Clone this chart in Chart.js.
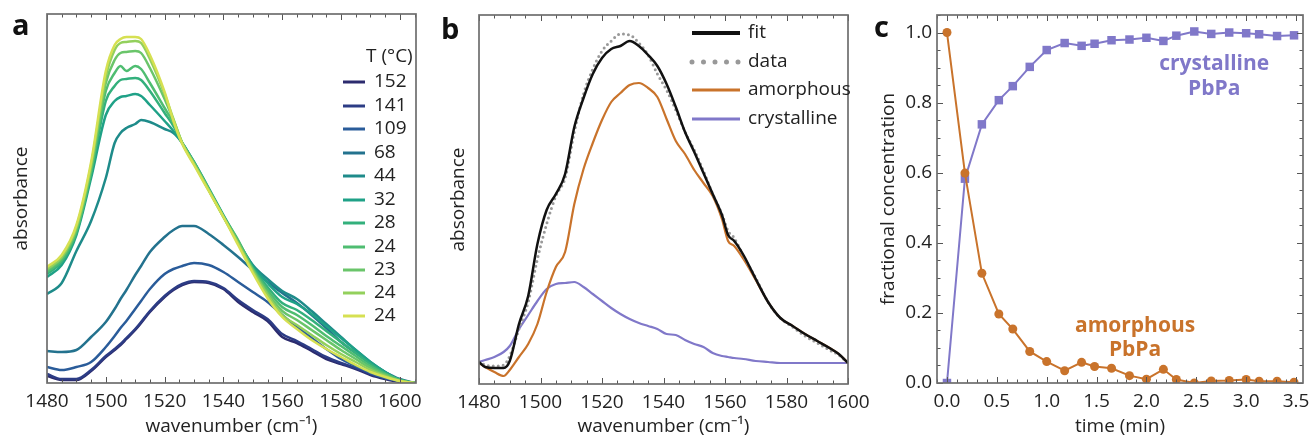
<!DOCTYPE html>
<html>
<head>
<meta charset="utf-8">
<script src="https://cdn.jsdelivr.net/npm/chart.js@4.4.1/dist/chart.umd.min.js"></script>
<style>
  body { margin: 0; background: #fff; }
  #fig { position: relative; width: 1309px; height: 438px; overflow: hidden; font-family: 'Open Sans', sans-serif; }
  #fig canvas { position: absolute; top: 0; }
  .tag { position: absolute; font-weight: 700; font-size: 29px; line-height: 1; color: #111; }
</style>
</head>
<body>
<div id="fig">
  <canvas id="chartA" width="430" height="438" style="left:0"></canvas>
  <canvas id="chartB" width="445" height="438" style="left:430px"></canvas>
  <canvas id="chartC" width="449" height="438" style="left:860px"></canvas>
  <div class="tag" style="left:12px;top:9px">a</div>
  <div class="tag" style="left:441px;top:13px">b</div>
  <div class="tag" style="left:874px;top:11px">c</div>
</div>
<script>
// panel a : spectra while cooling (absorbance in arbitrary units)
var wavenumberA = [1480,1485,1490,1495,1500,1503,1505,1507,1510,1512,1515,1520,1523,1526,1530,1535,1540,1545,1550,1555,1560,1565,1570,1575,1580,1585,1590,1595,1600,1605];
var tempLabels = ['152','141','109','68','44','32','28','24','23','24','24'];
var abs152 = [7,3,3,12,26,33,38,44,53,60,71,86,93,98,101,100,94,81,71,62,46,40,32,24,19,14,8,4,1,0];
var abs141 = [9,4,4,13,27,34,39,45,54,61,72,87,94,99,102,101,95,83,73,64,49,42,34,26,20,15,9,5,2,0];
var abs109 = [16,13,16,21,36,47,55,62,74,82,94,109,114,117,120,118,111,101,91,81,68,56,45,34,24,17,10,5,2,0];
var abs68 = [32,31,33,46,61,74,84,93,108,117,131,146,153,157,157,149,138,126,113,101,90,80,68,55,41,30,20,11,4,0];
var abs44 = [89,100,132,162,205,240,250,255,259,263,261,254,250,240,220,193,167,141,118,104,92,84,72,59,46,33,21,11,3,0];
var abs32 = [106,118,148,205,268,282,286,287,289,287,278,262,252,240,221,195,168,142,117,100,86,79,69,57,45,33,21,11,3,0];
var abs28 = [109,121,150,209,282,297,303,304,305,303,292,270,257,240,221,194,167,141,115,96,80,73,63,52,41,30,19,10,3,0];
var abs24a = [111,123,152,212,292,310,317,312,317,314,300,275,260,240,220,194,167,143,114,93,76,68,58,47,37,27,17,9,3,0];
var abs23 = [113,125,154,215,300,323,330,331,332,330,315,284,263,240,220,193,166,140,113,90,72,63,53,43,33,24,15,8,2,0];
var abs24b = [114,126,156,218,306,333,340,341,342,340,324,289,264,240,219,193,166,140,112,88,68,58,48,38,29,21,13,7,2,0];
var abs24c = [116,128,158,221,312,338,344,346,346,344,328,291,262,239,218,192,166,138,110,85,66,54,43,34,26,18,11,6,2,0];

// panel b : fit of one spectrum
var wavenumberB = [1480,1482,1485,1488,1490,1493,1496,1499,1502,1505,1508,1511,1514,1517,1520,1523,1526,1529,1532,1535,1538,1541,1544,1547,1550,1553,1556,1559,1561,1563,1566,1570,1574,1578,1582,1586,1590,1594,1597,1600];
var fitB = [22,17,16,16,23,60,88,140,174,190,210,257,286,310,326,335,338,343,338,329,318,300,277,252,232,211,190,169,149,143,129,105,82,66,58,50,43,36,30,21];
var dataB = [22,19,18,19,28,55,82,125,160,188,206,252,290,315,333,343,350,349,341,329,310,294,274,252,234,213,190,170,153,146,128,106,82,66,57,48,41,34,29,21];
var amorphousB = [21,17,12,8,14,27,40,60,92,117,132,180,215,241,264,282,291,299,301,296,287,265,243,230,214,201,188,165,143,138,125,104,82,66,58,50,43,36,30,21];
var crystallineB = [22,24,27,32,38,55,69,83,95,100,101,102,97,90,83,76,70,65,61,58,55,50,49,44,40,37,31,28,27,26,25,23,22,21,21,21,21,21,21,21];

// panel c : fractional concentration vs time
var timeMin = [0,0.18,0.35,0.52,0.66,0.83,1.0,1.18,1.35,1.48,1.65,1.83,2.0,2.17,2.3,2.48,2.65,2.83,3.0,3.13,3.31,3.48];
var amorphousC = [1.0,0.599,0.313,0.197,0.154,0.090,0.061,0.035,0.059,0.047,0.042,0.021,0.011,0.039,0.010,0.0,0.006,0.007,0.010,0.005,0.005,0.002];
var crystallineC = [0.0,0.583,0.738,0.807,0.847,0.902,0.950,0.970,0.962,0.968,0.978,0.980,0.985,0.976,0.991,1.003,0.996,1.0,0.998,0.995,0.990,0.992];

var colorsA = ['#2c2b6e','#2c3c85','#2a5c9a','#23728e','#1e8b8a','#1fa187','#33b07c','#4fbd71','#6ac56a','#93d05c','#d6e052'];
var orange = '#c9732b';
var purple = '#8078c9';

Chart.defaults.font.family = "'Open Sans', sans-serif";
Chart.defaults.font.size = 19;
Chart.defaults.color = '#222';
Chart.defaults.animation = false;

function pairs(xs, ys) {
  return xs.map(function (x, i) { return { x: x, y: ys[i] }; });
}

// frame round the plot area, with inward ticks taken from the scales
var boxTicks = {
  id: 'boxTicks',
  afterDraw: function (chart, args, opts) {
    var ctx = chart.ctx, a = chart.chartArea;
    ctx.save();
    ctx.strokeStyle = '#555';
    ctx.lineWidth = 1;
    (opts.axes || []).forEach(function (id) {
      var sc = chart.scales[id];
      sc.ticks.forEach(function (t, i) {
        var p = Math.round(sc.getPixelForTick(i)) + 0.5;
        var len = t.label !== '' ? 6 : 3.5;
        ctx.beginPath();
        if (sc.isHorizontal()) {
          ctx.moveTo(p, a.bottom); ctx.lineTo(p, a.bottom - len);
          ctx.moveTo(p, a.top); ctx.lineTo(p, a.top + len);
        } else {
          ctx.moveTo(a.left, p); ctx.lineTo(a.left + len, p);
          ctx.moveTo(a.right, p); ctx.lineTo(a.right - len, p);
        }
        ctx.stroke();
      });
    });
    ctx.strokeStyle = '#6e6e6e';
    ctx.lineWidth = 1.7;
    ctx.strokeRect(a.left, a.top, a.right - a.left, a.bottom - a.top);
    ctx.restore();
  }
};

// small legend drawn inside the plot area
var inlineLegend = {
  id: 'inlineLegend',
  afterDraw: function (chart, args, o) {
    if (!o.rows) return;
    var ctx = chart.ctx;
    ctx.save();
    ctx.font = "19px 'Open Sans'";
    ctx.fillStyle = '#222';
    ctx.textBaseline = 'middle';
    if (o.title) ctx.fillText(o.title, o.titleX, o.titleY);
    chart.data.datasets.forEach(function (ds, i) {
      var y = o.rows[i];
      ctx.strokeStyle = ds.borderColor;
      ctx.lineWidth = o.widths ? o.widths[i] : 3;
      ctx.lineCap = o.dashes && o.dashes[i] ? 'round' : 'butt';
      ctx.setLineDash(o.dashes && o.dashes[i] ? o.dashes[i] : []);
      ctx.beginPath();
      ctx.moveTo(o.x0, y);
      ctx.lineTo(o.x1, y);
      ctx.stroke();
      ctx.fillText(ds.label, o.tx, y);
    });
    ctx.restore();
  }
};

// bold text labels at data positions
var notes = {
  id: 'notes',
  afterDraw: function (chart, args, o) {
    if (!o.items) return;
    var ctx = chart.ctx, sx = chart.scales.x, sy = chart.scales.y;
    ctx.save();
    ctx.font = "bold 21px 'Open Sans'";
    ctx.textAlign = 'center';
    ctx.textBaseline = 'middle';
    o.items.forEach(function (it) {
      ctx.fillStyle = it.color;
      ctx.fillText(it.text, sx.getPixelForValue(it.x), sy.getPixelForValue(it.y));
    });
    ctx.restore();
  }
};

Chart.register(boxTicks, inlineLegend, notes);

function xAxis(min, max, step, label, height, titleText) {
  return {
    type: 'linear', min: min, max: max,
    grid: { display: false, drawTicks: false },
    border: { display: false },
    ticks: { stepSize: step, autoSkip: false, maxRotation: 0, includeBounds: false, padding: 7, callback: label },
    title: { display: true, text: titleText, padding: { top: 0, bottom: 0 } },
    afterFit: function (s) { s.height = height; s.paddingLeft = 0; s.paddingRight = 0; }
  };
}

var every20 = function (v) { return v % 20 === 0 ? String(v) : ''; };

// ---- panel a
new Chart(document.getElementById('chartA'), {
  type: 'line',
  data: {
    datasets: [abs152, abs141, abs109, abs68, abs44, abs32, abs28, abs24a, abs23, abs24b, abs24c].map(function (vals, i, all) {
      return {
        label: tempLabels[i],
        data: pairs(wavenumberA, vals),
        borderColor: colorsA[i],
        borderWidth: 2.5,
        pointRadius: 0,
        cubicInterpolationMode: 'monotone',
        order: all.length - i
      };
    })
  },
  options: {
    responsive: false,
    layout: { padding: { top: 14, right: 14, left: 0, bottom: 0 } },
    scales: {
      x: xAxis(1480, 1605.5, 5, every20, 55, 'wavenumber (cm\u207B\u00B9)'),
      y: {
        min: 0, max: 369,
        grid: { display: false, drawTicks: false },
        border: { display: false },
        ticks: { display: false },
        title: { display: true, text: 'absorbance', padding: { top: 10, bottom: 0 } },
        afterFit: function (s) { s.width = 47; s.paddingTop = 0; s.paddingBottom = 0; }
      }
    },
    plugins: {
      legend: { display: false },
      tooltip: { enabled: false },
      boxTicks: { axes: ['x'] },
      inlineLegend: {
        title: 'T (\u00B0C)', titleX: 366, titleY: 57,
        x0: 343, x1: 365, tx: 374,
        rows: [82, 106, 129, 153, 176, 200, 223, 247, 270, 293, 316]
      }
    }
  }
});

// ---- panel b
new Chart(document.getElementById('chartB'), {
  type: 'line',
  data: {
    datasets: [
      { label: 'fit', data: pairs(wavenumberB, fitB), borderColor: '#111', borderWidth: 2.5 },
      { label: 'data', data: pairs(wavenumberB, dataB), borderColor: '#999', borderWidth: 3,
        borderDash: [0, 5], borderCapStyle: 'round' },
      { label: 'amorphous', data: pairs(wavenumberB, amorphousB), borderColor: orange, borderWidth: 2.2 },
      { label: 'crystalline', data: pairs(wavenumberB, crystallineB), borderColor: purple, borderWidth: 2.2 }
    ].map(function (d) { d.pointRadius = 0; d.cubicInterpolationMode = 'monotone'; return d; })
  },
  options: {
    responsive: false,
    layout: { padding: { top: 15, right: 27, left: 0, bottom: 0 } },
    scales: {
      x: xAxis(1480, 1600, 5, every20, 54, 'wavenumber (cm\u207B\u00B9)'),
      y: {
        min: 0, max: 369,
        grid: { display: false, drawTicks: false },
        border: { display: false },
        ticks: { display: false },
        title: { display: true, text: 'absorbance', padding: { top: 17, bottom: 0 } },
        afterFit: function (s) { s.width = 49; s.paddingTop = 0; s.paddingBottom = 0; }
      }
    },
    plugins: {
      legend: { display: false },
      tooltip: { enabled: false },
      boxTicks: { axes: ['x'] },
      inlineLegend: {
        x0: 262, x1: 310, tx: 318,
        rows: [33, 62, 90, 119],
        widths: [4, 5, 3, 3],
        dashes: [null, [0, 11.5], null, null]
      }
    }
  }
});

// ---- panel c
new Chart(document.getElementById('chartC'), {
  type: 'line',
  data: {
    datasets: [
      { label: 'amorphous PbPa', data: pairs(timeMin, amorphousC), borderColor: orange, backgroundColor: orange,
        pointStyle: 'circle', pointRadius: 4.5 },
      { label: 'crystalline PbPa', data: pairs(timeMin, crystallineC), borderColor: purple, backgroundColor: purple,
        pointStyle: 'rect', pointRadius: 6 }
    ].map(function (d) { d.borderWidth = 2; d.pointBorderWidth = 0; return d; })
  },
  options: {
    responsive: false,
    layout: { padding: { top: 15, right: 3, left: 0, bottom: 0 } },
    scales: {
      x: xAxis(-0.1, 3.57, 0.1, function (v) {
        var k = Math.round(v * 10);
        return k >= 0 && k % 5 === 0 ? (k / 10).toFixed(1) : '';
      }, 55, 'time (min)'),
      y: {
        min: 0, max: 1.05,
        grid: { display: false, drawTicks: false },
        border: { display: false },
        ticks: {
          stepSize: 0.05, autoSkip: false, includeBounds: false, padding: 5,
          callback: function (v) {
            var k = Math.round(v * 100);
            return k % 20 === 0 ? (k / 100).toFixed(1) : '';
          }
        },
        title: { display: true, text: 'fractional concentration', padding: { top: 17, bottom: 0 } },
        afterFit: function (s) { s.width = 77; s.paddingTop = 0; s.paddingBottom = 0; }
      }
    },
    plugins: {
      legend: { display: false },
      tooltip: { enabled: false },
      boxTicks: { axes: ['x', 'y'] },
      notes: {
        items: [
          { text: 'crystalline', x: 2.68, y: 0.91, color: purple },
          { text: 'PbPa', x: 2.68, y: 0.84, color: purple },
          { text: 'amorphous', x: 1.886, y: 0.164, color: orange },
          { text: 'PbPa', x: 1.886, y: 0.095, color: orange }
        ]
      }
    }
  }
});
</script>
</body>
</html>
